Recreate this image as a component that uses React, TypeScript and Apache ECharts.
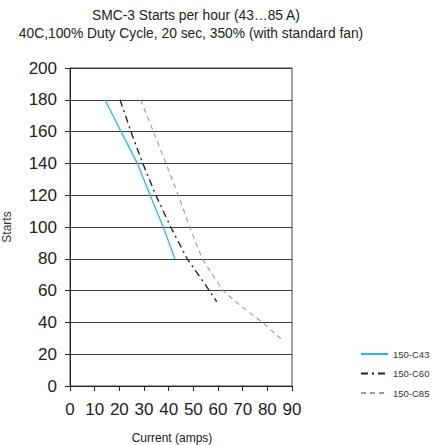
import React, { useEffect, useRef } from "react";
import * as echarts from "echarts";

// Starts per hour vs. motor current for three SMC-3 controller ratings
const seriesNames = ["150-C43", "150-C60", "150-C85"];

const c43Current = [14.2, 20.7, 27.3, 32.5, 37.8, 42.5];
const c43Starts = [180, 160, 140, 120, 100, 80];

const c60Current = [20.3, 24.7, 29.5, 34.8, 40.8, 47.5, 56.5, 59.5];
const c60Starts = [180, 160, 140, 120, 100, 80, 60, 53];

const c85Current = [28.6, 33.8, 38.9, 43.9, 48.5, 53.6, 62, 69.5, 78, 86];
const c85Starts = [180, 160, 140, 120, 100, 80, 60, 50, 40, 29];

const xTicks = [0, 10, 20, 30, 40, 50, 60, 70, 80, 90];
const yTicks = [0, 20, 40, 60, 80, 100, 120, 140, 160, 180, 200];

const titleLines = [
  "SMC-3 Starts per hour (43…85 A)",
  "40C,100% Duty Cycle, 20 sec, 350% (with standard fan)",
];

const FONT = "'Liberation Sans', Arial, Helvetica, sans-serif";

const pair = (xs: number[], ys: number[]) => xs.map((x, i) => [x, ys[i]]);

export default function App() {
  const ref = useRef<HTMLDivElement>(null);

  useEffect(() => {
    if (!ref.current) return;
    const chart = echarts.init(ref.current, null, { renderer: "svg" });
    chart.setOption({
      animation: false,
      backgroundColor: "#ffffff",
      textStyle: { fontFamily: FONT },
      title: [
        {
          text: titleLines[0],
          left: 191,
          top: 3,
          padding: 5,
          textAlign: "center",
          textStyle: { fontSize: 13.8, fontWeight: "normal", color: "#222", fontFamily: FONT },
        },
        {
          text: titleLines[1],
          left: 186,
          top: 21,
          padding: 5,
          textAlign: "center",
          textStyle: { fontSize: 13.8, fontWeight: "normal", color: "#222", fontFamily: FONT },
        },
      ],
      grid: {
        left: 70,
        right: 149,
        top: 68,
        bottom: 59,
        show: true,
        borderColor: "#444",
        borderWidth: 1,
        outerBoundsMode: "none",
        containLabel: false,
      },
      legend: {
        orient: "vertical",
        left: 355,
        top: 344,
        itemWidth: 27,
        itemHeight: 10,
        itemGap: 9.5,
        data: seriesNames,
        itemStyle: { opacity: 0, color: "transparent", borderWidth: 0 },
        textStyle: { fontSize: 9.5, color: "#333", fontFamily: FONT },
      },
      xAxis: {
        type: "value",
        min: xTicks[0],
        max: xTicks[xTicks.length - 1],
        interval: 10,
        name: "Current (amps)",
        nameLocation: "middle",
        nameGap: 46,
        nameTextStyle: { fontSize: 12, color: "#222", padding: [0, 18, 0, 0] },
        axisLine: { lineStyle: { color: "#222", width: 1 } },
        axisTick: { show: true, inside: false, length: 5, lineStyle: { color: "#222" } },
        axisLabel: { fontSize: 17, color: "#222", margin: 15 },
        splitLine: { show: false },
      },
      yAxis: {
        type: "value",
        min: yTicks[0],
        max: yTicks[yTicks.length - 1],
        interval: 20,
        name: "Starts",
        nameLocation: "middle",
        nameRotate: 90,
        nameGap: 57,
        nameTextStyle: { fontSize: 12, color: "#333" },
        axisLine: { show: true, lineStyle: { color: "#222", width: 1 } },
        axisTick: { show: true, inside: false, length: 5, lineStyle: { color: "#222" } },
        axisLabel: { fontSize: 17, color: "#222", margin: 13 },
        splitLine: { show: true, lineStyle: { color: "#3a3a3a", width: 1 } },
      },
      series: [
        {
          name: seriesNames[0],
          type: "line",
          data: pair(c43Current, c43Starts),
          showSymbol: false,
          symbol: "none",
          color: "#2bb8f0",
          lineStyle: { color: "#2bb8f0", width: 1.3, type: "solid" },
        },
        {
          name: seriesNames[1],
          type: "line",
          data: pair(c60Current, c60Starts),
          showSymbol: false,
          symbol: "none",
          color: "#222",
          lineStyle: { color: "#222", width: 1.4, type: [7, 4, 2, 4] },
        },
        {
          name: seriesNames[2],
          type: "line",
          data: pair(c85Current, c85Starts),
          showSymbol: false,
          symbol: "none",
          color: "#9a9a9a",
          lineStyle: { color: "#9a9a9a", width: 1.1, type: [5, 4] },
        },
      ],
    });
    return () => chart.dispose();
  }, []);

  return (
    <div
      ref={ref}
      style={{ position: "fixed", left: 0, top: 0, width: 441, height: 445 }}
    />
  );
}
